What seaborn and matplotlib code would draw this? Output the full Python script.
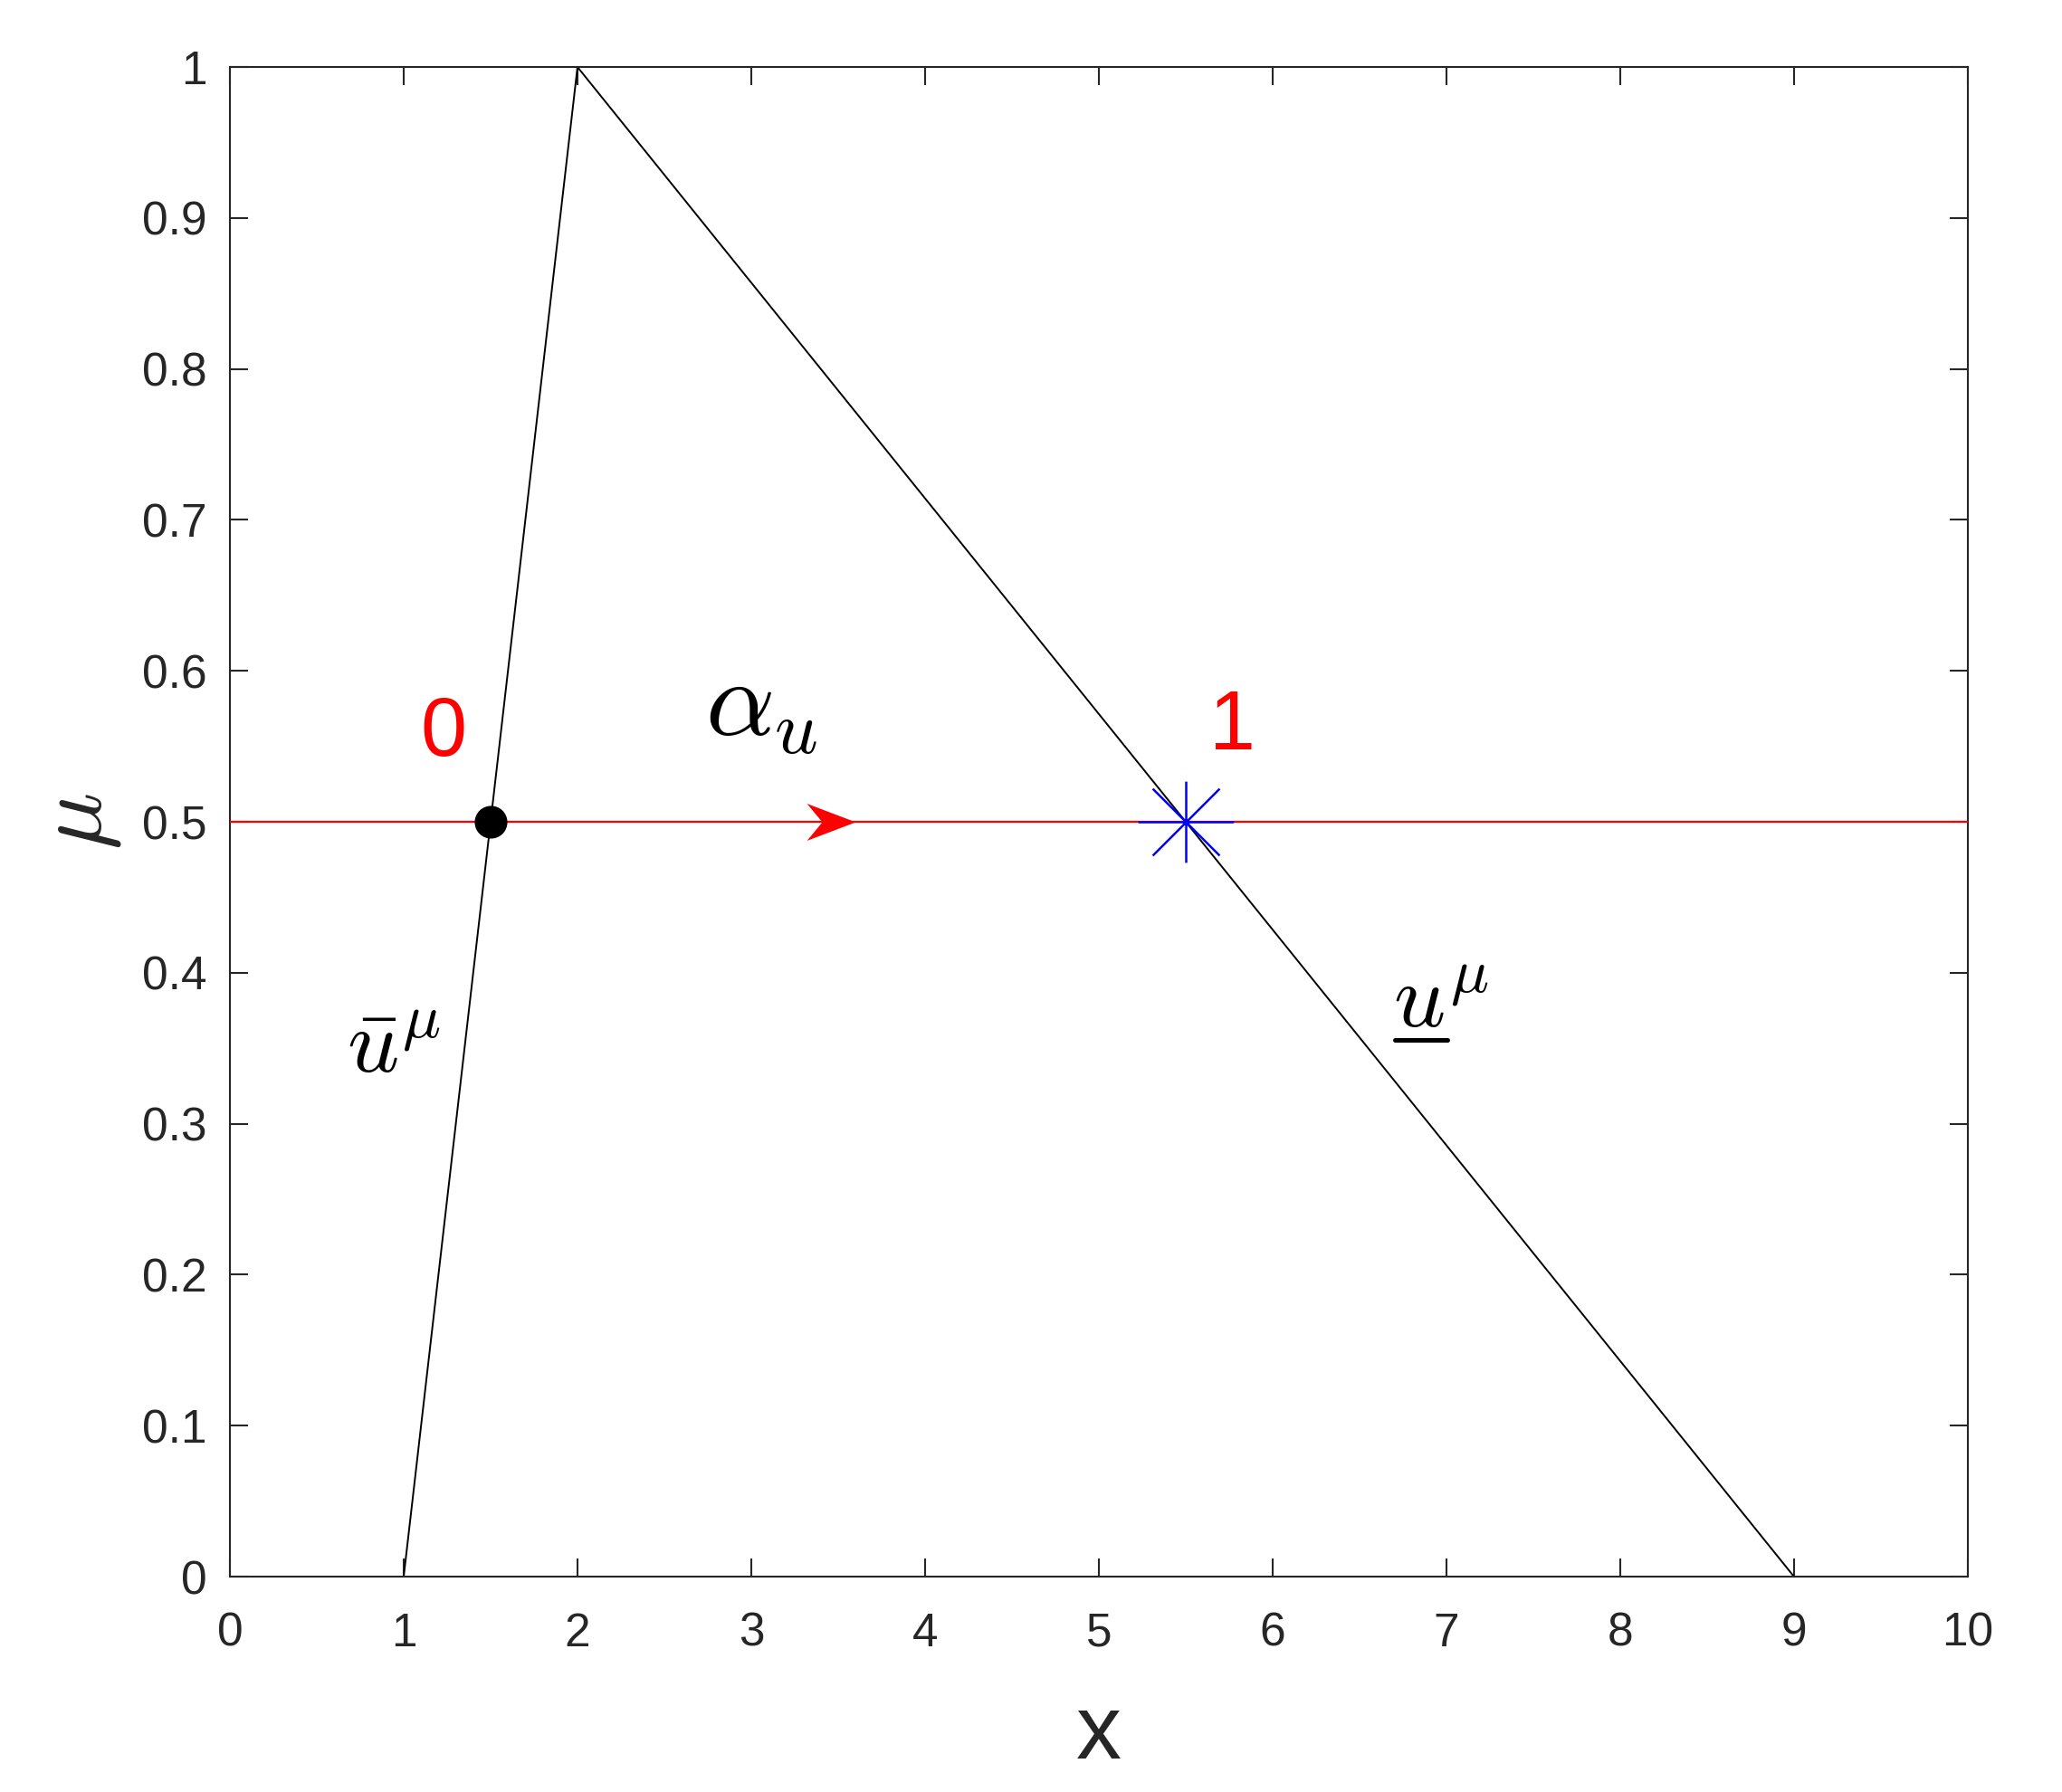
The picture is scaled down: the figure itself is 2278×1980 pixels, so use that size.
import matplotlib
matplotlib.use("Agg")
import matplotlib.pyplot as plt
import matplotlib.transforms as mtransforms
from matplotlib.path import Path
from matplotlib.lines import Line2D
from matplotlib.mathtext import MathTextParser
import seaborn as sns

# triangular membership curve and the horizontal cut mu = 0.5
curve_x = [1, 2, 9]
curve_y = [0, 1, 0]
cut_x = [0, 10]
cut_y = [0.5, 0.5]

# special points on the cut
start_x, start_y = 1.5, 0.5    # alpha_u = 0
end_x, end_y = 5.5, 0.5        # alpha_u = 1
arrow_x, arrow_y = 3.46, 0.5   # direction marker

x_ticks = [0, 1, 2, 3, 4, 5, 6, 7, 8, 9, 10]
y_ticks = [0, 0.1, 0.2, 0.3, 0.4, 0.5, 0.6, 0.7, 0.8, 0.9, 1]
y_tick_labels = ['0', '0.1', '0.2', '0.3', '0.4', '0.5', '0.6', '0.7', '0.8', '0.9', '1']

DARK = '#262626'

sns.set_theme(style='ticks', rc={
    'xtick.direction': 'in',
    'ytick.direction': 'in',
    'xtick.top': True,
    'ytick.right': True,
    'xtick.major.size': 7.2,
    'ytick.major.size': 7.2,
    'xtick.major.width': 0.75,
    'ytick.major.width': 0.75,
    'axes.linewidth': 0.75,
    'axes.edgecolor': DARK,
    'xtick.color': DARK,
    'ytick.color': DARK,
    'axes.labelcolor': DARK,
    'mathtext.fontset': 'cm',
})
plt.rcParams['font.family'] = ['Liberation Sans', 'DejaVu Sans']

fig = plt.figure(figsize=(11.39, 9.9), dpi=200)
ax = fig.add_axes([0.1115, 0.1202, 0.8428, 0.8424])

sns.lineplot(x=curve_x, y=curve_y, sort=False, estimator=None, color='black',
             linewidth=0.7, ax=ax, zorder=2)
sns.lineplot(x=cut_x, y=cut_y, sort=False, estimator=None, color='red',
             linewidth=0.8, ax=ax, zorder=3)

# MATLAB-like asterisk marker
asterisk = Path(
    [(-1, 0), (1, 0), (0, -0.85), (0, 0.85),
     (-0.7, -0.7), (0.7, 0.7), (-0.7, 0.7), (0.7, -0.7)],
    [Path.MOVETO, Path.LINETO] * 4)
# notched arrow head
arrow_head = Path(
    [(1, 0), (-1, 0.76), (-0.37, 0), (-1, -0.76), (1, 0)],
    [Path.MOVETO, Path.LINETO, Path.LINETO, Path.LINETO, Path.CLOSEPOLY])

ax.plot([arrow_x], [arrow_y], marker=arrow_head, markersize=19.4, color='red',
        markeredgewidth=0, linestyle='none', zorder=4)
ax.plot([start_x], [start_y], marker='o', markersize=12, color='black',
        linestyle='none', zorder=5)
ax.plot([end_x], [end_y], marker=asterisk, markersize=38, color='blue',
        markeredgewidth=0.9, linestyle='none', zorder=5)

# annotations
ax.text(1.23, 0.544, '0', color='red', fontsize=33, ha='center', va='baseline')
ax.text(5.77, 0.548, '1', color='red', fontsize=33, ha='center', va='baseline')
ax.text(3.06, 0.557, r'$\alpha_u$', color='black', fontsize=43, ha='center', va='baseline')
ax.text(0.94, 0.334, r'$\bar{u}^{\mu}$', color='black', fontsize=36, ha='center', va='baseline')

# \underline is not in every mathtext version, so check it first
try:
    MathTextParser('agg').parse(r'$\underline{u}^{\mu}$', dpi=200)
    has_underline = True
except Exception:
    has_underline = False

if has_underline:
    ax.text(6.97, 0.364, r'$\underline{u}^{\mu}$', color='black', fontsize=36,
            ha='center', va='baseline')
else:
    ax.text(6.97, 0.364, r'$u^{\mu}$', color='black', fontsize=36,
            ha='center', va='baseline')
    # underline in inches relative to the label anchor
    und = Line2D([-18.4 / 72, 2.5 / 72], [-5 / 72, -5 / 72], color='black', linewidth=1.8,
                 transform=fig.dpi_scale_trans
                 + mtransforms.ScaledTranslation(6.97, 0.364, ax.transData))
    ax.add_artist(und)

ax.set_xlim(0, 10)
ax.set_ylim(0, 1)
ax.set_xticks(x_ticks)
ax.set_xticklabels([str(t) for t in x_ticks])
ax.set_yticks(y_ticks)
ax.set_yticklabels(y_tick_labels)
ax.tick_params(axis='both', labelsize=18.5)
ax.tick_params(axis='x', pad=14)
ax.tick_params(axis='y', pad=9)

ax.set_xlabel('x', fontsize=36)
ax.set_ylabel(r'$\mu$', fontsize=38)
ax.xaxis.set_label_coords(0.5, -0.0767)
ax.yaxis.set_label_coords(-0.0615, 0.5)

for s in ax.spines.values():
    s.set_visible(True)

fig.savefig('out.png', dpi=200)
